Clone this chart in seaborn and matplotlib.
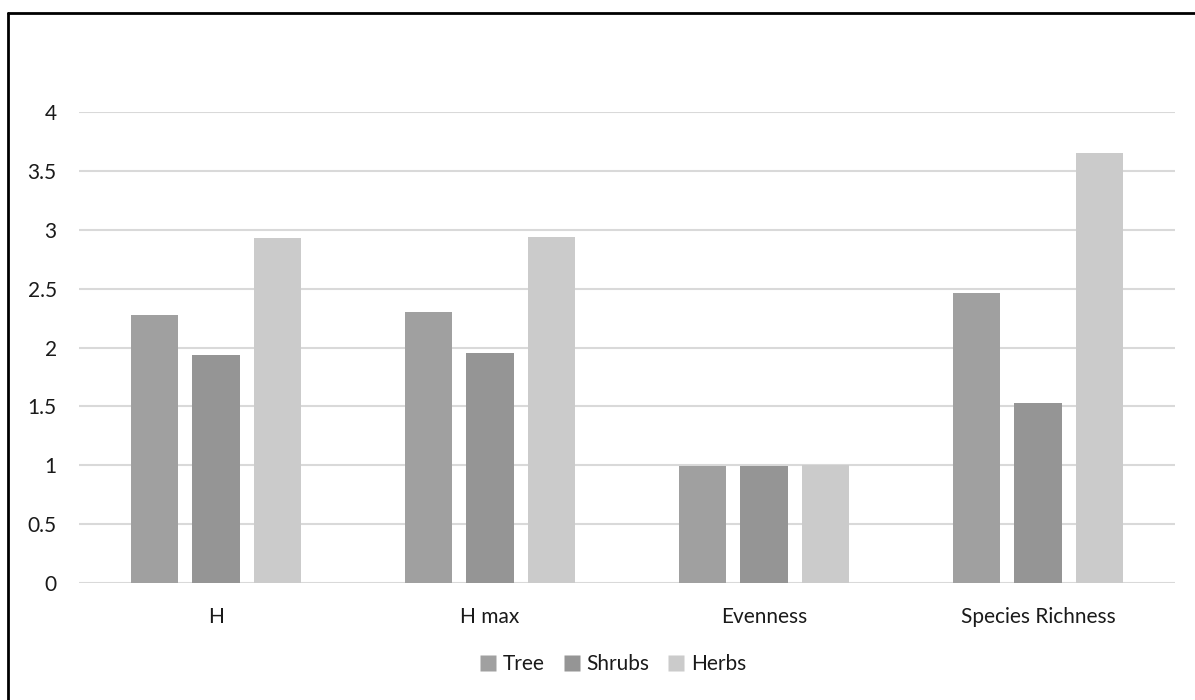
import matplotlib
matplotlib.use("Agg")
import matplotlib.pyplot as plt
import seaborn as sns
import pandas as pd
from matplotlib.lines import Line2D

categories = ["H", "H max", "Evenness", "Species Richness"]
series = ["Tree", "Shrubs", "Herbs"]
tree = [2.28, 2.30, 0.99, 2.46]
shrubs = [1.94, 1.95, 0.99, 1.53]
herbs = [2.93, 2.94, 1.00, 3.65]
yticks = [0, 0.5, 1, 1.5, 2, 2.5, 3, 3.5, 4]
ytick_labels = ["0", "0.5", "1", "1.5", "2", "2.5", "3", "3.5", "4"]

colors = {"Tree": "#a0a0a0", "Shrubs": "#959595", "Herbs": "#cbcbcb"}

rows = []
for name, vals in zip(series, [tree, shrubs, herbs]):
    for c, v in zip(categories, vals):
        rows.append({"category": c, "series": name, "value": v})
df = pd.DataFrame(rows)

sns.set_theme(style="white")
plt.rcParams["font.family"] = ["Lato", "DejaVu Sans"]

FS = 15

fig = plt.figure(figsize=(11.95, 7), dpi=100)
ax = fig.add_axes([79 / 1195, 1 - 583 / 700, (1175 - 79) / 1195, (583 - 112) / 700])

sns.barplot(data=df, x="category", y="value", hue="series", order=categories,
            hue_order=series, palette=colors, width=0.67, gap=0.23,
            saturation=1, edgecolor="none", legend=False, ax=ax, zorder=3)

ax.set_ylim(0, 4)
ax.set_xlim(-0.5, 3.5)
ax.set_yticks(yticks)
ax.set_yticklabels(ytick_labels)
ax.yaxis.grid(True, color="#d9d9d9", linewidth=1.5, zorder=0)
ax.set_axisbelow(True)
for s in ax.spines.values():
    s.set_visible(False)
ax.set_xlabel("")
ax.set_ylabel("")
ax.tick_params(axis="y", length=0, pad=16, labelsize=FS, labelcolor="#1a1a1a")
ax.tick_params(axis="x", length=0, pad=17, labelsize=FS, labelcolor="#1a1a1a")

handles = [Line2D([0], [0], marker="s", linestyle="none", markersize=11,
                  markerfacecolor=colors[s], markeredgecolor="none") for s in series]
fig.legend(handles, series, loc="center", bbox_to_anchor=(613 / 1195, 1 - 664 / 700),
           ncol=3, frameon=False, fontsize=FS, handlelength=0.8, handletextpad=0.3,
           columnspacing=0.9, labelcolor="#1a1a1a")

# outer border (left and top only)
fig.add_artist(Line2D([8 / 1195, 8 / 1195], [0, 1 - 13 / 700], transform=fig.transFigure,
                      color="black", linewidth=2))
fig.add_artist(Line2D([8 / 1195, 1], [1 - 13 / 700, 1 - 13 / 700], transform=fig.transFigure,
                      color="black", linewidth=2))

fig.savefig("out.png", dpi=100)
